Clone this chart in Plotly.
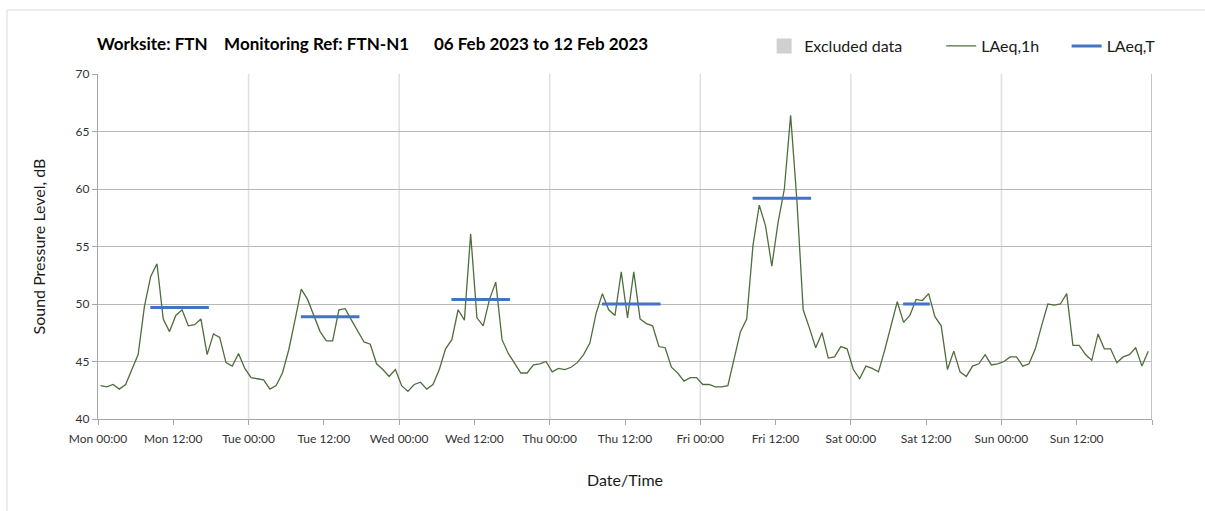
### noise monitoring chart: hourly LAeq with period LAeq,T bars

import pandas as pd
import plotly.graph_objects as go


################################
# DATA
################################

WEEK_START = "2023-02-06"

# hourly LAeq,1h values, dB (Mon 00:00 .. Sun 23:00)
MON = [42.9, 42.8, 43.0, 42.6, 43.0, 44.3, 45.6, 49.8, 52.4, 53.5, 48.7, 47.6,
       49.0, 49.5, 48.1, 48.2, 48.7, 45.6, 47.4, 47.1, 44.9, 44.6, 45.7, 44.4]
TUE = [43.6, 43.5, 43.4, 42.6, 42.9, 44.0, 46.0, 48.6, 51.3, 50.4, 49.0, 47.6,
       46.8, 46.8, 49.5, 49.6, 48.6, 47.6, 46.7, 46.5, 44.8, 44.3, 43.7, 44.3]
WED = [42.9, 42.4, 43.0, 43.2, 42.6, 43.0, 44.3, 46.1, 46.9, 49.5, 48.6, 56.1,
       48.8, 48.1, 50.4, 51.9, 46.9, 45.7, 44.8, 44.0, 44.0, 44.7, 44.8, 45.0]
THU = [44.1, 44.4, 44.3, 44.5, 44.9, 45.6, 46.6, 49.2, 50.9, 49.5, 49.0, 52.8,
       48.8, 52.8, 48.7, 48.3, 48.1, 46.3, 46.2, 44.5, 44.0, 43.3, 43.6, 43.6]
FRI = [43.0, 43.0, 42.8, 42.8, 42.9, 45.2, 47.6, 48.7, 55.1, 58.6, 56.8, 53.3,
       57.1, 60.0, 66.4, 59.0, 49.5, 47.9, 46.2, 47.5, 45.3, 45.4, 46.3, 46.1]
SAT = [44.3, 43.5, 44.6, 44.4, 44.1, 46.0, 48.1, 50.2, 48.4, 49.0, 50.4, 50.3,
       50.9, 48.9, 48.1, 44.3, 45.9, 44.1, 43.7, 44.6, 44.8, 45.6, 44.7, 44.8]
SUN = [45.0, 45.4, 45.4, 44.6, 44.8, 46.1, 48.1, 50.0, 49.9, 50.0, 50.9, 46.4,
       46.4, 45.6, 45.1, 47.4, 46.1, 46.1, 44.9, 45.4, 45.6, 46.2, 44.6, 45.9]

# period LAeq,T per day
PERIOD_DAYS = ["2023-02-06", "2023-02-07", "2023-02-08",
               "2023-02-09", "2023-02-10", "2023-02-11"]
PERIOD_START = ["08:20", "08:20", "08:20", "08:20", "08:20", "08:20"]
PERIOD_END = ["17:40", "17:40", "17:40", "17:40", "17:40", "12:35"]
PERIOD_LAEQ = [49.7, 48.9, 50.4, 50.0, 59.2, 50.0]

TICK_LABELS = ["Mon 00:00", "Mon 12:00", "Tue 00:00", "Tue 12:00",
               "Wed 00:00", "Wed 12:00", "Thu 00:00", "Thu 12:00",
               "Fri 00:00", "Fri 12:00", "Sat 00:00", "Sat 12:00",
               "Sun 00:00", "Sun 12:00", ""]

TITLE = ("Worksite: FTN&nbsp;&nbsp;&nbsp;&nbsp;Monitoring Ref: FTN-N1"
         "&nbsp;&nbsp;&nbsp;&nbsp;&nbsp;&nbsp;06 Feb 2023 to 12 Feb 2023")


################################
# BUILD SERIES
################################

laeq_1h = MON + TUE + WED + THU + FRI + SAT + SUN
hour_times = pd.date_range(WEEK_START + " 00:24", periods=len(laeq_1h), freq="h")

period_x = []
period_y = []
for day, start, end, value in zip(PERIOD_DAYS, PERIOD_START, PERIOD_END, PERIOD_LAEQ):
    period_x += [pd.Timestamp(day + " " + start), pd.Timestamp(day + " " + end), None]
    period_y += [value, value, None]

tick_times = pd.date_range(WEEK_START, periods=len(TICK_LABELS), freq="12h")
day_lines = pd.date_range(WEEK_START, periods=8, freq="D")

FONT = "Lato"
AXIS_GREY = "#a6a6a6"


################################
# FIGURE
################################

fig = go.Figure()

fig.add_trace(go.Scatter(
    x=hour_times,
    y=laeq_1h,
    mode="lines",
    name="LAeq,1h",
    line=dict(color="#4f6e3d", width=1.3),
    legend="legend2"
))

fig.add_trace(go.Scatter(
    x=period_x,
    y=period_y,
    mode="lines",
    name="LAeq,T",
    line=dict(color="#4472c4", width=3),
    connectgaps=False,
    legend="legend3"
))

# legend-only entry for excluded periods (none in this week)
fig.add_trace(go.Scatter(
    x=[None], y=[None],
    mode="markers",
    name="Excluded data",
    marker=dict(symbol="square", size=15, color="#d0d0d0"),
    showlegend=True,
    legend="legend"
))

# outer chart border
fig.add_shape(
    type="rect",
    xref="paper", yref="paper",
    x0=-0.0863, x1=1.06, y0=-0.28, y1=1.1855,
    line=dict(color="#d9d9d9", width=1),
    layer="below"
)

# daily vertical gridlines, last one closes the plot area
for i, d in enumerate(day_lines[1:]):
    last = i == len(day_lines) - 2
    fig.add_vline(
        x=d,
        line_color=AXIS_GREY if last else "#e0e0e0",
        line_width=1.3 if last else 1.6,
        layer="below"
    )

legend_common = dict(
    orientation="h",
    yref="paper",
    y=1.081,
    yanchor="middle",
    xanchor="left",
    font=dict(family=FONT, size=16, color="#1a1a1a"),
    bgcolor="rgba(0,0,0,0)",
    itemwidth=30
)

fig.update_layout(
    width=1205,
    height=511,
    margin=dict(l=98, r=53, t=74, b=92),
    paper_bgcolor="white",
    plot_bgcolor="white",
    font=dict(family=FONT, size=12, color="#333333"),
    title=dict(
        text="<b>" + TITLE + "</b>",
        font=dict(family=FONT, size=17, color="#000000"),
        x=97 / 1205,
        xref="container",
        xanchor="left",
        y=1 - 44 / 511,
        yref="container",
        yanchor="middle"
    ),
    legend=dict(legend_common, x=0.632),
    legend2=dict(legend_common, x=0.800),
    legend3=dict(legend_common, x=0.919),
)

fig.update_xaxes(
    type="date",
    range=[day_lines[0], day_lines[-1]],
    tickmode="array",
    tickvals=tick_times,
    ticktext=TICK_LABELS,
    showgrid=False,
    showline=True,
    linecolor=AXIS_GREY,
    linewidth=1.3,
    ticks="outside",
    ticklen=5,
    tickcolor=AXIS_GREY,
    ticklabelstandoff=3,
    tickfont=dict(family=FONT, size=12, color="#333333"),
    title=dict(text="Date/Time", font=dict(family=FONT, size=16, color="#1a1a1a"), standoff=30),
    zeroline=False
)

fig.update_yaxes(
    range=[40, 70],
    dtick=5,
    showgrid=True,
    gridcolor="#b8b8b8",
    gridwidth=1,
    showline=True,
    linecolor=AXIS_GREY,
    linewidth=1.3,
    ticks="outside",
    ticklen=5,
    tickcolor=AXIS_GREY,
    tickfont=dict(family=FONT, size=12, color="#333333"),
    title=dict(text="Sound Pressure Level, dB", font=dict(family=FONT, size=16, color="#1a1a1a"), standoff=25),
    zeroline=False
)

fig.write_html(
    "out.html",
    config={"displayModeBar": False},
    post_script="document.body.style.margin='0';"
)
